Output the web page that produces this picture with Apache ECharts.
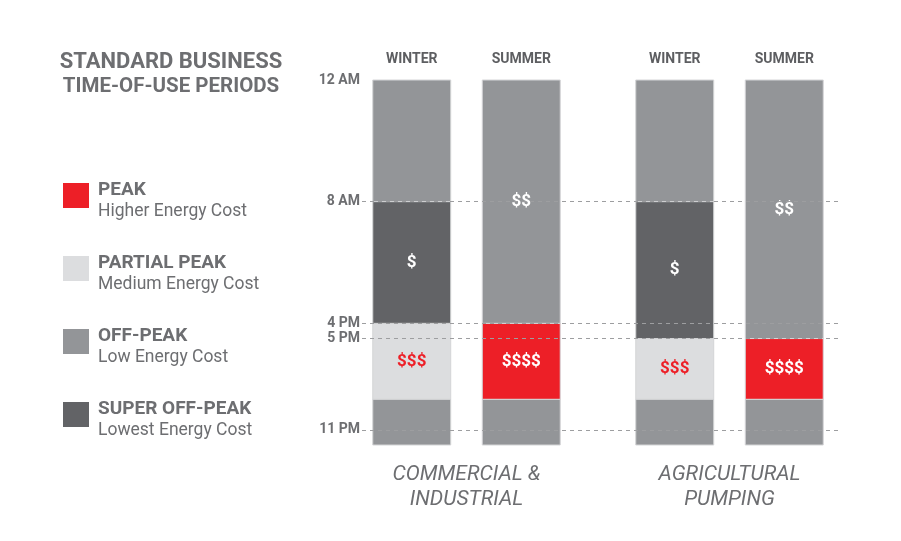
<!DOCTYPE html>
<html>
<head>
<meta charset="utf-8">
<script src="https://cdn.jsdelivr.net/npm/echarts@6/dist/echarts.min.js"></script>
<style>
html,body{margin:0;padding:0;background:#fff;}
#chart{width:901px;height:541px;}
</style>
</head>
<body>
<div id="chart"></div>
<script>
// ---- data ----
const tickHours = [0, 8, 16, 17, 23];
const tickLabels = ['12 AM', '8 AM', '4 PM', '5 PM', '11 PM'];
const dashHours = [8, 16, 17, 23];
const seasons = ['WINTER', 'SUMMER'];
const groupNames = ['COMMERCIAL &\nINDUSTRIAL', 'AGRICULTURAL\nPUMPING'];
const periodNames = ['PEAK', 'PARTIAL PEAK', 'OFF-PEAK', 'SUPER OFF-PEAK'];
const periodNotes = ['Higher Energy Cost', 'Medium Energy Cost', 'Low Energy Cost', 'Lowest Energy Cost'];
const priceText = ['$$$$', '$$$', '$$', '$'];
// segments: [startHour, endHour, periodIndex, showPrice]
const ciWinter = [[0, 8, 2, 0], [8, 16, 3, 1], [16, 21, 1, 1], [21, 24, 2, 0]];
const ciSummer = [[0, 16, 2, 1], [16, 21, 0, 1], [21, 24, 2, 0]];
const agWinter = [[0, 8, 2, 0], [8, 17, 3, 1], [17, 21, 1, 1], [21, 24, 2, 0]];
const agSummer = [[0, 17, 2, 1], [17, 21, 0, 1], [21, 24, 2, 0]];
const groupSegments = [[ciWinter, ciSummer], [agWinter, agSummer]];

// ---- styles ----
const periodColors = ['#ed1f27', '#dcdddf', '#939598', '#626366'];
const priceColors = ['#ffffff', '#ed1f27', '#ffffff', '#ffffff'];
const textGray = '#6d6e71';
const FONT = 'Roboto, "Noto Sans", sans-serif';
// legend swatch: 26x25 square sitting near the top of a 44px-tall item
const legendIcon = 'path://M0,0h0.01v0.01h-0.01z M0,4h26v25h-26z M0,44h0.01v0.01h-0.01z';

const chart = echarts.init(document.getElementById('chart'), null, {renderer: 'canvas'});

function renderItem(params, api) {
  const x = api.value(0);
  const s = api.value(1);
  const e = api.value(2);
  const p = api.value(3);
  const show = api.value(4);
  const a = api.coord([x, s]);
  const b = api.coord([x, e]);
  const w = api.size([1, 0])[0] * 0.712;
  const el = {
    type: 'rect',
    shape: {x: a[0] - w / 2, y: a[1], width: w, height: b[1] - a[1]},
    style: {fill: api.visual('color'), stroke: '#d4d5d7', lineWidth: 1}
  };
  if (show) {
    el.textContent = {
      style: {
        text: priceText[p], fill: priceColors[p],
        font: 'bold 17px ' + FONT
      }
    };
    el.textConfig = {position: 'inside'};
  }
  return el;
}

const series = [{
  type: 'line', xAxisIndex: 0, yAxisIndex: 0, data: [], z: 1, silent: true,
  markLine: {
    symbol: 'none', silent: true, animation: false,
    label: {show: false},
    lineStyle: {type: [4, 4], color: '#9d9ea0', width: 1},
    data: dashHours.map(h => ({yAxis: h}))
  }
}];
groupSegments.forEach((grp, g) => {
  periodNames.forEach((name, p) => {
    const rows = [];
    grp.forEach((segs, si) => {
      segs.forEach(sg => { if (sg[2] === p) rows.push([si, sg[0], sg[1], sg[2], sg[3]]); });
    });
    series.push({
      type: 'custom', name: name, xAxisIndex: g + 1, yAxisIndex: g + 1,
      renderItem: renderItem, itemStyle: {color: periodColors[p]},
      encode: {x: 0, y: [1, 2]}, data: rows, z: 3, animation: false
    });
  });
});

const option = {
  animation: false,
  title: {
    text: 'STANDARD BUSINESS', subtext: 'TIME-OF-USE PERIODS',
    left: 166, top: 46, textAlign: 'center', itemGap: 3,
    textStyle: {fontFamily: FONT, fontWeight: 'bold', fontSize: 22, color: textGray},
    subtextStyle: {fontFamily: FONT, fontWeight: 'bold', fontSize: 20.5, color: textGray}
  },
  legend: {
    orient: 'vertical', left: 58, top: 174, itemWidth: 26, itemHeight: 44,
    itemGap: 29, icon: legendIcon, selectedMode: false,
    data: periodNames,
    formatter: name => '{b|' + name + '}\n{s|' + periodNotes[periodNames.indexOf(name)] + '}',
    textStyle: {
      padding: [0, 0, 0, 4],
      rich: {
        b: {fontFamily: FONT, fontWeight: 'bold', fontSize: 19, color: textGray, lineHeight: 22},
        s: {fontFamily: FONT, fontSize: 17.5, color: textGray, lineHeight: 22}
      }
    }
  },
  grid: [
    {left: 362, right: 61, top: 80, bottom: 96},
    {left: 357, width: 219, top: 80, bottom: 96},
    {left: 620, width: 219, top: 80, bottom: 96}
  ],
  xAxis: [
    {type: 'value', gridIndex: 0, min: 0, max: 1, show: false},
    {type: 'category', gridIndex: 1, data: seasons, position: 'top',
      axisLine: {show: false}, axisTick: {show: false},
      axisLabel: {margin: 14, fontFamily: FONT, fontWeight: 'bold', fontSize: 14, color: '#5d5e61'}},
    {type: 'category', gridIndex: 2, data: seasons, position: 'top',
      axisLine: {show: false}, axisTick: {show: false},
      axisLabel: {margin: 14, fontFamily: FONT, fontWeight: 'bold', fontSize: 14, color: '#5d5e61'}},
    {type: 'category', gridIndex: 1, data: seasons, position: 'bottom',
      axisLine: {show: false}, axisTick: {show: false}, axisLabel: {show: false},
      name: groupNames[0], nameLocation: 'middle', nameGap: 17,
      nameTextStyle: {fontFamily: FONT, fontStyle: 'italic', fontSize: 21, color: textGray, lineHeight: 25}},
    {type: 'category', gridIndex: 2, data: seasons, position: 'bottom',
      axisLine: {show: false}, axisTick: {show: false}, axisLabel: {show: false},
      name: groupNames[1], nameLocation: 'middle', nameGap: 17,
      nameTextStyle: {fontFamily: FONT, fontStyle: 'italic', fontSize: 21, color: textGray, lineHeight: 25}}
  ],
  yAxis: [
    {type: 'value', gridIndex: 0, min: 0, max: 24, interval: 1, inverse: true,
      axisLine: {show: false}, axisTick: {show: false}, splitLine: {show: false},
      axisLabel: {margin: 2, hideOverlap: false, fontFamily: FONT, fontWeight: 'bold', fontSize: 14, color: textGray,
        formatter: v => { const i = tickHours.indexOf(v); return i >= 0 ? tickLabels[i] : ''; }}},
    {type: 'value', gridIndex: 1, min: 0, max: 24, inverse: true, show: false, splitLine: {show: false}},
    {type: 'value', gridIndex: 2, min: 0, max: 24, inverse: true, show: false, splitLine: {show: false}}
  ],
  series: series
};
chart.setOption(option);
</script>
</body>
</html>
